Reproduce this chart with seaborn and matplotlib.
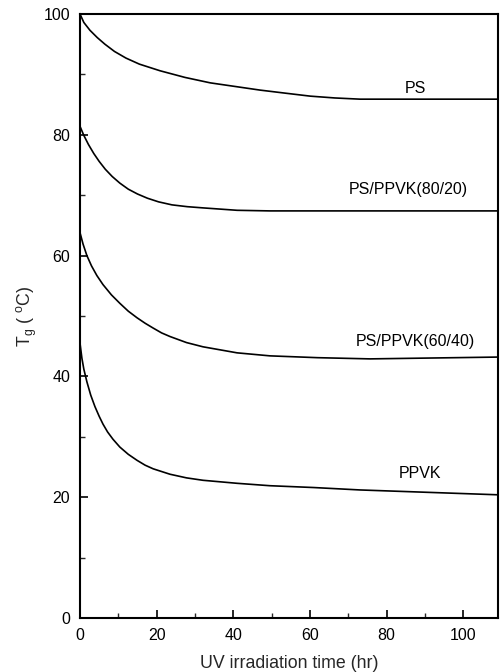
import numpy as np
import pandas as pd
import matplotlib
matplotlib.use("Agg")
import matplotlib.pyplot as plt
from matplotlib.ticker import MultipleLocator
import seaborn as sns

# ---- data ----
ps_t = [0, 1.0, 2.6, 4.5, 6.5, 9.0, 12.0, 15.5, 20.9, 27.4, 34.0, 40.5, 47.0, 53.5, 60.1, 66.5, 73.1, 90, 109]
ps_v = [100, 98.6, 97.3, 96.1, 95.0, 93.8, 92.7, 91.7, 90.6, 89.5, 88.6, 88.0, 87.4, 86.9, 86.4, 86.1, 85.9, 85.9, 85.9]

p8020_t = [0, 1.0, 2.2, 3.6, 5.0, 6.6, 8.4, 10.4, 12.6, 15.0, 17.6, 20.5, 24.0, 28.0, 32.1, 41.0, 49.6, 70, 109]
p8020_v = [81.4, 79.9, 78.4, 76.9, 75.6, 74.3, 73.1, 72.0, 71.0, 70.2, 69.5, 68.9, 68.4, 68.1, 67.9, 67.5, 67.4, 67.4, 67.4]

p6040_t = [0, 0.8, 1.8, 3.0, 4.4, 6.0, 8.2, 10.4, 12.6, 14.9, 17.0, 19.1, 21.3, 23.5, 27.8, 32.1, 41.0, 49.6, 62, 75.7, 109]
p6040_v = [63.8, 61.9, 60.0, 58.3, 56.7, 55.2, 53.5, 52.1, 50.8, 49.7, 48.8, 48.0, 47.2, 46.6, 45.6, 44.9, 43.9, 43.4, 43.1, 42.9, 43.2]

ppvk_t = [0, 0.5, 1.0, 1.8, 2.8, 3.9, 5.0, 6.0, 7.2, 8.6, 10.4, 12.6, 14.9, 17.0, 19.1, 23.5, 27.8, 32.1, 41.0, 49.6, 61, 73.1, 109]
ppvk_v = [45.5, 43.0, 41.2, 39.1, 36.9, 35.0, 33.4, 32.1, 30.8, 29.6, 28.3, 27.1, 26.1, 25.3, 24.7, 23.8, 23.2, 22.8, 22.3, 21.9, 21.6, 21.2, 20.4]

series_names = ["PS", "PS/PPVK(80/20)", "PS/PPVK(60/40)", "PPVK"]
label_x = [87.5, 85.6, 87.5, 88.8]
label_y = [86.4, 70.9, 45.7, 24.0]
label_va = ["bottom", "center", "center", "center"]

x_ticks = [0, 20, 40, 60, 80, 100]
y_ticks = [0, 20, 40, 60, 80, 100]

frames = []
for name, t, v in zip(series_names,
                      [ps_t, p8020_t, p6040_t, ppvk_t],
                      [ps_v, p8020_v, p6040_v, ppvk_v]):
    frames.append(pd.DataFrame({"t": t, "Tg": v, "sample": name}))
df = pd.concat(frames, ignore_index=True)

sns.set_style("ticks")
plt.rcParams["font.family"] = ["Liberation Sans", "DejaVu Sans"]
plt.rcParams["mathtext.default"] = "regular"

fig = plt.figure(figsize=(5.02, 6.72), dpi=100)
ax = fig.add_axes([80 / 502, 1 - 618 / 672, (498 - 80) / 502, (618 - 14) / 672])

sns.lineplot(data=df, x="t", y="Tg", hue="sample", hue_order=series_names,
             palette=["black"] * 4, legend=False, linewidth=1.2, ax=ax,
             estimator=None, sort=False)

for name, x, y, va in zip(series_names, label_x, label_y, label_va):
    ax.text(x, y, name, ha="center", va=va, fontsize=11.5, color="black")

ax.set_xlim(0, 109.1)
ax.set_ylim(0, 100)
ax.set_xticks(x_ticks)
ax.set_yticks(y_ticks)
ax.xaxis.set_minor_locator(MultipleLocator(10))
ax.yaxis.set_minor_locator(MultipleLocator(10))
ax.tick_params(which="major", direction="in", length=6, width=1.2,
               labelsize=11.5, colors="black", pad=7)
ax.tick_params(which="minor", direction="in", length=3.5, width=1.0)
for s in ax.spines.values():
    s.set_visible(True)
    s.set_linewidth(1.5)
    s.set_color("black")

ax.set_xlabel("UV irradiation time (hr)", fontsize=12.8, labelpad=9)
ax.set_ylabel(r"T$_{g}$ ( $^{o}$C)", fontsize=12.8, labelpad=3.5)

fig.savefig("out.png", dpi=100)
